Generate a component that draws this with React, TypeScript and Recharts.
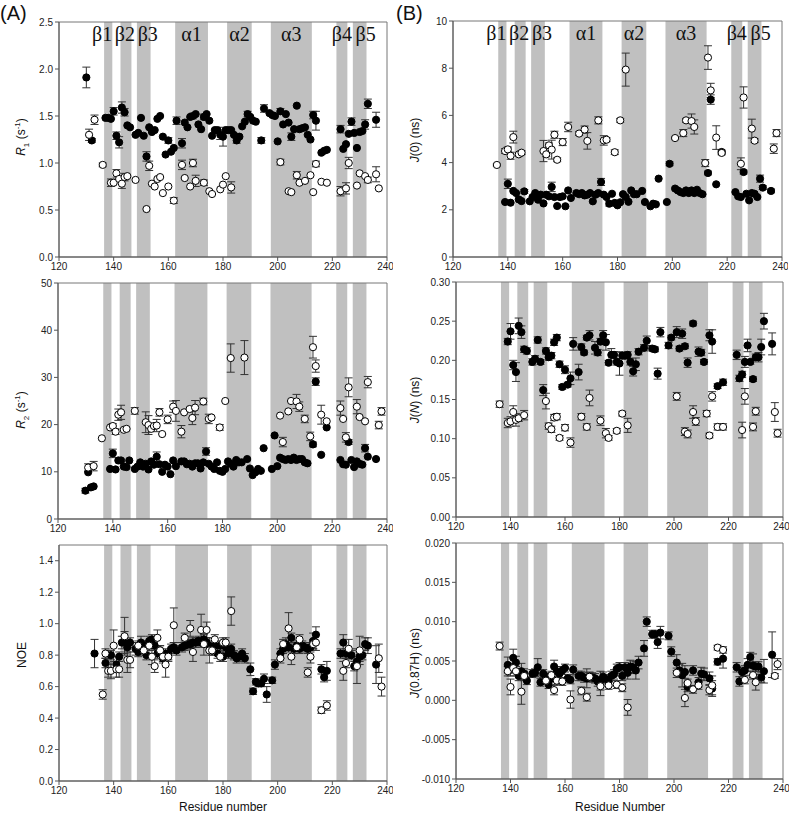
import { ScatterChart, Scatter, XAxis, YAxis, ReferenceArea, ErrorBar } from 'recharts';

type Pt = [number, number, number];

const xTicks = [120, 140, 160, 180, 200, 220, 240];

const sseNames = ['β1', 'β2', 'β3', 'α1', 'α2', 'α3', 'β4', 'β5'];
const sseStart = [136.5, 142.5, 148.5, 162.5, 181.5, 197.5, 221.5, 227.5];
const sseEnd = [139.5, 146.5, 153.5, 174.5, 190.5, 212.5, 225.5, 232.5];

// [residue, value, error]
const r1Filled: Pt[] = [
  [130, 1.91, 0.11], [132, 1.24, 0.02], [137, 1.48, 0], [138, 1.48, 0], [139, 1.47, 0], [140, 1.55, 0.04],
  [141, 1.29, 0.04], [142, 1.22, 0.06], [143, 1.59, 0.06], [144, 1.54, 0.04], [145, 1.4, 0], [146, 1.38, 0],
  [148, 1.3, 0], [149, 1.32, 0], [150, 1.48, 0], [151, 1.29, 0], [152, 1.07, 0.05], [153, 1.38, 0],
  [154, 1.33, 0], [155, 1.35, 0], [156, 1.47, 0], [157, 1.5, 0], [158, 1.28, 0], [159, 1.09, 0],
  [160, 1.24, 0.03], [161, 1.12, 0], [162, 1.16, 0], [163, 1.45, 0.04], [165, 1.21, 0.05], [166, 1.43, 0],
  [167, 1.38, 0], [168, 1.49, 0], [169, 1.5, 0.03], [170, 1.52, 0], [171, 1.41, 0], [172, 1.36, 0],
  [173, 1.49, 0.03], [174, 1.52, 0], [175, 1.45, 0], [176, 1.29, 0], [177, 1.35, 0], [178, 1.35, 0],
  [179, 1.3, 0.05], [180, 1.28, 0.1], [181, 1.35, 0], [182, 1.35, 0], [183, 1.35, 0], [184, 1.3, 0],
  [185, 1.24, 0.03], [186, 1.28, 0], [187, 1.39, 0], [188, 1.44, 0], [189, 1.52, 0.03], [190, 1.49, 0],
  [191, 1.45, 0], [192, 1.44, 0], [194, 1.24, 0.03], [195, 1.58, 0.04], [197, 1.53, 0], [198, 1.51, 0],
  [199, 1.5, 0], [200, 1.23, 0], [201, 1.55, 0.03], [202, 1.41, 0], [203, 1.52, 0], [204, 1.43, 0],
  [205, 1.28, 0.04], [206, 1.36, 0], [207, 1.61, 0], [208, 1.36, 0], [209, 1.37, 0], [210, 1.38, 0],
  [211, 1.3, 0], [212, 1.25, 0], [213, 1.51, 0.04], [214, 1.45, 0.1], [216, 1.11, 0], [217, 1.13, 0],
  [218, 1.14, 0], [223, 1.36, 0.04], [224, 1.15, 0], [225, 1.2, 0], [226, 1.31, 0], [227, 1.44, 0.04],
  [228, 1.32, 0], [229, 1.16, 0], [230, 1.33, 0], [231, 1.34, 0], [232, 1.41, 0.05], [233, 1.63, 0.05],
  [236, 1.46, 0.08],
];
const r1Open: Pt[] = [
  [131, 1.3, 0.06], [133, 1.46, 0.05], [136, 0.98, 0.02], [139, 0.79, 0.04], [140, 0.79, 0], [141, 0.89, 0.04],
  [142, 0.83, 0], [143, 0.78, 0.05], [144, 0.85, 0.04], [145, 0.86, 0], [148, 0.82, 0], [152, 0.51, 0],
  [153, 0.97, 0.05], [154, 0.78, 0], [155, 0.75, 0], [156, 0.83, 0], [157, 0.85, 0], [158, 0.68, 0],
  [160, 0.75, 0], [162, 0.6, 0.03], [165, 0.98, 0.05], [166, 0.84, 0], [168, 0.75, 0], [169, 1.0, 0.04],
  [170, 0.81, 0.06], [173, 0.79, 0.03], [175, 0.7, 0], [176, 0.67, 0], [179, 0.72, 0], [180, 0.77, 0],
  [181, 0.86, 0], [183, 0.74, 0.06], [201, 1.01, 0.03], [204, 0.7, 0], [205, 0.69, 0], [207, 0.87, 0.04],
  [208, 0.79, 0], [210, 0.81, 0], [212, 0.87, 0], [213, 0.69, 0], [214, 0.99, 0.03], [216, 0.8, 0],
  [218, 0.79, 0], [223, 0.7, 0.05], [225, 0.73, 0.06], [226, 1.0, 0.06], [229, 0.76, 0], [230, 0.89, 0],
  [232, 0.86, 0], [233, 0.82, 0.03], [236, 0.88, 0.08], [237, 0.73, 0],
];

const j0Filled: Pt[] = [
  [139, 2.33, 0], [140, 3.1, 0.2], [141, 2.3, 0], [142, 2.8, 0], [143, 2.71, 0], [144, 2.44, 0],
  [145, 2.37, 0], [146, 2.78, 0.08], [148, 2.36, 0], [149, 2.54, 0], [150, 2.71, 0], [151, 2.43, 0],
  [152, 2.64, 0], [153, 2.27, 0], [154, 2.64, 0], [155, 2.57, 0], [156, 2.97, 0.2], [157, 2.54, 0],
  [158, 2.16, 0], [159, 2.54, 0], [160, 2.57, 0], [161, 2.15, 0], [162, 2.82, 0], [163, 2.5, 0],
  [165, 2.71, 0], [166, 2.66, 0], [167, 2.71, 0], [168, 2.61, 0], [169, 2.64, 0], [170, 2.71, 0],
  [171, 2.36, 0], [172, 2.64, 0], [173, 2.71, 0], [174, 3.18, 0.15], [175, 2.64, 0], [176, 2.54, 0],
  [177, 2.26, 0.1], [178, 2.68, 0], [179, 2.29, 0], [180, 2.19, 0], [181, 2.32, 0], [182, 2.66, 0],
  [183, 2.54, 0], [184, 2.34, 0], [185, 2.82, 0], [186, 2.66, 0], [187, 2.66, 0], [189, 2.8, 0],
  [190, 2.33, 0], [192, 2.15, 0], [193, 2.26, 0], [194, 2.23, 0], [195, 3.32, 0], [198, 2.33, 0],
  [199, 3.95, 0.08], [201, 2.9, 0], [202, 2.82, 0], [203, 2.75, 0], [204, 2.71, 0], [205, 2.82, 0],
  [206, 2.71, 0], [207, 2.82, 0], [208, 2.71, 0], [209, 2.85, 0], [210, 2.71, 0], [211, 2.66, 0],
  [213, 3.56, 0.08], [214, 6.67, 0.2], [216, 3.08, 0], [218, 4.45, 0.08], [223, 2.75, 0], [224, 2.57, 0],
  [225, 2.54, 0], [226, 3.6, 0.08], [227, 2.68, 0], [228, 2.4, 0], [229, 2.71, 0], [230, 2.68, 0],
  [231, 2.54, 0], [232, 3.32, 0.15], [233, 2.94, 0.08], [236, 2.8, 0.08],
];
const j0Open: Pt[] = [
  [136, 3.9, 0.05], [139, 4.49, 0.1], [140, 4.56, 0.1], [141, 4.29, 0.15], [142, 5.08, 0.25], [144, 4.35, 0.08],
  [145, 4.42, 0.08], [153, 4.49, 0.45], [154, 4.35, 0.1], [155, 4.73, 0.1], [156, 4.55, 0.4], [157, 5.18, 0.15],
  [158, 4.12, 0.08], [160, 4.87, 0.15], [162, 5.51, 0.2], [166, 5.23, 0.08], [168, 5.4, 0.15], [169, 4.92, 0.35],
  [173, 5.79, 0.15], [175, 4.94, 0.2], [176, 4.97, 0.08], [179, 4.44, 0.1], [181, 5.79, 0.08], [183, 7.94, 0.7],
  [201, 5.04, 0.05], [204, 5.25, 0.15], [205, 5.79, 0.08], [207, 5.76, 0.3], [208, 5.51, 0.3], [212, 3.98, 0.15],
  [213, 8.45, 0.5], [214, 7.06, 0.3], [216, 5.06, 0.5], [218, 4.41, 0.08], [225, 3.95, 0.25], [226, 6.76, 0.45],
  [229, 5.44, 0.4], [230, 4.93, 0.08], [237, 4.59, 0.2], [238, 5.25, 0.15],
];

const r2Filled: Pt[] = [
  [130, 6.0, 0.5], [131, 9.9, 0], [132, 6.7, 0], [133, 6.9, 0], [139, 10.6, 0], [140, 13.9, 0.9],
  [141, 10.5, 0], [142, 12.4, 0], [143, 12.4, 0], [144, 11.1, 0], [145, 11.0, 0], [146, 12.4, 0],
  [148, 10.6, 0], [149, 11.1, 0], [150, 12.0, 0], [151, 11.1, 0], [152, 11.7, 0], [153, 10.5, 0],
  [154, 12.2, 0], [155, 11.5, 0], [156, 13.2, 1.0], [157, 11.6, 0], [158, 10.0, 0], [159, 11.5, 0],
  [160, 11.1, 0], [161, 9.5, 0], [162, 12.4, 0], [163, 11.2, 0], [165, 12.2, 0], [166, 12.2, 0],
  [167, 11.6, 0], [168, 11.7, 0], [169, 11.1, 0], [170, 11.8, 0], [171, 11.8, 0], [172, 10.7, 0],
  [173, 12.0, 0], [174, 14.3, 0.8], [175, 11.7, 0], [176, 11.1, 0], [177, 10.6, 0], [178, 12.0, 0],
  [179, 10.2, 0], [180, 10.0, 0], [181, 10.6, 0], [182, 12.2, 0], [183, 11.7, 0], [184, 11.1, 0],
  [185, 12.5, 0], [186, 12.0, 0], [187, 12.0, 0], [189, 12.7, 0], [190, 10.7, 0], [191, 9.3, 0],
  [192, 9.9, 0], [193, 10.6, 0], [194, 10.2, 0], [195, 15.0, 0], [198, 10.6, 0], [199, 17.7, 0],
  [200, 11.2, 0], [201, 13.0, 0], [202, 12.7, 0], [203, 12.5, 0], [204, 12.7, 0], [205, 12.5, 0],
  [206, 13.0, 0], [207, 12.5, 0], [208, 12.7, 0], [209, 12.7, 0], [210, 12.0, 0], [211, 11.8, 0],
  [213, 15.8, 0.5], [214, 29.1, 0.8], [216, 13.6, 0], [218, 19.4, 0], [223, 12.5, 0], [224, 11.6, 0],
  [225, 11.5, 0], [226, 16.3, 0.5], [227, 12.5, 0], [228, 11.0, 0], [229, 12.2, 0], [230, 11.7, 0],
  [231, 11.5, 0], [232, 15.0, 0.8], [233, 13.2, 0], [236, 12.7, 0],
];
const r2Open: Pt[] = [
  [131, 10.9, 0.8], [133, 11.2, 1.0], [136, 17.1, 0], [139, 19.4, 0], [140, 19.7, 0.5], [141, 18.5, 0.6],
  [142, 22.1, 1.2], [143, 22.6, 1.5], [144, 18.9, 0], [145, 19.1, 0], [148, 22.9, 0.7], [152, 20.5, 2.2],
  [153, 19.9, 2.0], [154, 19.1, 0], [155, 19.7, 0], [156, 19.8, 1.3], [157, 22.6, 0.8], [158, 18.0, 0],
  [160, 21.1, 0.9], [162, 23.8, 1.2], [163, 22.9, 2.2], [165, 18.5, 1.3], [166, 22.6, 0], [168, 23.3, 0],
  [169, 21.4, 1.4], [170, 23.6, 1.5], [173, 24.9, 0.7], [175, 21.2, 1.0], [176, 21.5, 0], [179, 19.4, 0.6],
  [181, 25.0, 0], [183, 34.1, 3.0], [188, 34.2, 3.6], [201, 21.9, 0], [202, 16.3, 1.0], [204, 22.8, 0],
  [205, 25.0, 0], [207, 24.9, 1.5], [208, 23.8, 1.0], [210, 21.2, 0.8], [212, 17.5, 0.9], [213, 36.4, 2.3],
  [214, 32.4, 1.3], [216, 22.1, 2.0], [218, 20.7, 0], [223, 23.5, 1.5], [224, 21.2, 0], [225, 17.3, 1.0],
  [226, 27.9, 2.0], [229, 23.8, 1.5], [230, 21.6, 0], [232, 20.7, 0], [233, 29.0, 1.2], [237, 19.9, 0.8],
  [238, 22.8, 0.8],
];

const jnFilled: Pt[] = [
  [139, 0.224, 0.004], [140, 0.237, 0.01], [141, 0.194, 0.006], [142, 0.185, 0.012], [143, 0.244, 0.01],
  [144, 0.236, 0.008], [145, 0.214, 0.004], [146, 0.212, 0.004], [148, 0.198, 0.004], [149, 0.202, 0.004],
  [150, 0.226, 0.004], [151, 0.198, 0.003], [152, 0.162, 0.007], [153, 0.212, 0.004], [154, 0.204, 0.004],
  [155, 0.206, 0.004], [156, 0.223, 0.004], [157, 0.229, 0.004], [158, 0.195, 0.004], [159, 0.166, 0.003],
  [160, 0.188, 0.005], [161, 0.169, 0.003], [162, 0.177, 0.008], [163, 0.221, 0.008], [165, 0.185, 0.01],
  [166, 0.217, 0.004], [167, 0.21, 0.003], [168, 0.229, 0.003], [169, 0.232, 0.006], [171, 0.216, 0.008],
  [172, 0.21, 0.004], [173, 0.224, 0.004], [174, 0.232, 0.006], [175, 0.223, 0.01], [176, 0.197, 0.003],
  [177, 0.207, 0.008], [178, 0.207, 0.004], [179, 0.198, 0.004], [180, 0.196, 0.015], [181, 0.206, 0.004],
  [182, 0.206, 0.004], [183, 0.207, 0.004], [184, 0.198, 0.004], [185, 0.186, 0.006], [186, 0.195, 0.008],
  [187, 0.211, 0.004], [189, 0.216, 0.004], [190, 0.225, 0.006], [192, 0.215, 0.003], [193, 0.214, 0.003],
  [194, 0.183, 0.007], [195, 0.236, 0.006], [198, 0.219, 0.004], [199, 0.229, 0.003], [201, 0.236, 0.007],
  [202, 0.215, 0.003], [203, 0.234, 0.006], [204, 0.218, 0.003], [205, 0.197, 0.006], [207, 0.247, 0.003],
  [209, 0.211, 0.006], [210, 0.21, 0.004], [211, 0.198, 0.003], [213, 0.232, 0.007], [214, 0.224, 0.015],
  [216, 0.167, 0.003], [218, 0.172, 0.004], [223, 0.207, 0.006], [224, 0.177, 0.004], [225, 0.182, 0.004],
  [226, 0.198, 0.007], [227, 0.219, 0.008], [228, 0.198, 0.003], [229, 0.176, 0.003], [230, 0.204, 0.004],
  [231, 0.204, 0.006], [232, 0.217, 0.01], [233, 0.25, 0.01], [236, 0.221, 0.014],
];
const jnOpen: Pt[] = [
  [136, 0.144, 0.004], [139, 0.12, 0.006], [140, 0.122, 0.006], [141, 0.134, 0.008], [142, 0.124, 0.008],
  [143, 0.126, 0.004], [145, 0.13, 0.006], [153, 0.148, 0.01], [154, 0.116, 0.004], [155, 0.112, 0.004],
  [156, 0.127, 0.004], [157, 0.128, 0.004], [158, 0.101, 0.003], [160, 0.114, 0.004], [162, 0.095, 0.006],
  [166, 0.128, 0.004], [168, 0.115, 0.004], [169, 0.152, 0.01], [173, 0.123, 0.006], [175, 0.107, 0.006],
  [176, 0.101, 0.003], [179, 0.11, 0.003], [181, 0.132, 0.003], [183, 0.117, 0.009], [201, 0.154, 0.005],
  [204, 0.109, 0.005], [205, 0.106, 0.005], [207, 0.134, 0.008], [208, 0.122, 0.005], [212, 0.132, 0.004],
  [213, 0.104, 0.003], [214, 0.154, 0.006], [216, 0.115, 0.004], [218, 0.115, 0.004], [225, 0.111, 0.01],
  [226, 0.154, 0.01], [229, 0.115, 0.005], [230, 0.135, 0.005], [237, 0.134, 0.012], [238, 0.107, 0.005],
];

const noeFilled: Pt[] = [
  [133, 0.81, 0.09], [137, 0.75, 0.03], [139, 0.8, 0.03], [141, 0.74, 0.05], [142, 0.79, 0.03], [143, 0.88, 0.04],
  [144, 0.88, 0.07], [145, 0.85, 0.03], [146, 0.88, 0.03], [148, 0.84, 0.04], [149, 0.82, 0.03], [150, 0.88, 0.04],
  [151, 0.86, 0.03], [152, 0.8, 0.03], [153, 0.89, 0.03], [154, 0.9, 0.03], [155, 0.86, 0.03], [156, 0.81, 0.03],
  [157, 0.83, 0.03], [158, 0.78, 0.03], [159, 0.81, 0.03], [160, 0.8, 0.03], [161, 0.84, 0.03], [162, 0.85, 0.03],
  [163, 0.83, 0.03], [165, 0.85, 0.03], [166, 0.86, 0.03], [167, 0.87, 0.03], [168, 0.87, 0.03], [169, 0.88, 0.03],
  [170, 0.88, 0.03], [171, 0.89, 0.03], [172, 0.88, 0.03], [173, 0.9, 0.03], [174, 0.88, 0.03], [175, 0.86, 0.03],
  [176, 0.83, 0.03], [177, 0.86, 0.03], [178, 0.81, 0.03], [179, 0.86, 0.03], [180, 0.79, 0.03], [181, 0.85, 0.03],
  [182, 0.81, 0.03], [183, 0.84, 0.03], [184, 0.8, 0.03], [185, 0.78, 0.03], [186, 0.79, 0.03], [187, 0.81, 0.03],
  [188, 0.78, 0.03], [190, 0.71, 0.04], [191, 0.57, 0.02], [192, 0.63, 0.02], [193, 0.62, 0.02], [194, 0.62, 0.02],
  [195, 0.65, 0.03], [196, 0.55, 0.05], [198, 0.64, 0.02], [199, 0.74, 0.03], [201, 0.81, 0.03], [202, 0.84, 0.03],
  [203, 0.87, 0.04], [204, 0.85, 0.03], [205, 0.91, 0.03], [206, 0.84, 0.03], [207, 0.86, 0.03], [208, 0.84, 0.03],
  [209, 0.86, 0.03], [210, 0.85, 0.03], [211, 0.84, 0.03], [212, 0.85, 0.03], [213, 0.89, 0.05], [214, 0.93, 0.05],
  [216, 0.71, 0.03], [217, 0.66, 0.03], [218, 0.7, 0.06], [223, 0.81, 0.03], [224, 0.88, 0.05], [225, 0.81, 0.03],
  [226, 0.81, 0.03], [227, 0.8, 0.03], [228, 0.73, 0.03], [229, 0.76, 0.03], [230, 0.79, 0.03], [231, 0.8, 0.03],
  [232, 0.87, 0.04], [233, 0.86, 0.05], [236, 0.74, 0.12],
];
const noeOpen: Pt[] = [
  [136, 0.55, 0.03], [137, 0.81, 0.03], [138, 0.7, 0.04], [139, 0.7, 0.05], [140, 0.86, 0.1], [141, 0.71, 0.05],
  [142, 0.71, 0.05], [144, 0.92, 0.12], [145, 0.77, 0.08], [146, 0.77, 0.05], [149, 0.86, 0.03], [151, 0.83, 0.03],
  [153, 0.86, 0.03], [154, 0.79, 0.05], [155, 0.73, 0.04], [156, 0.91, 0.05], [157, 0.83, 0.03], [158, 0.79, 0.03],
  [159, 0.74, 0.08], [160, 0.79, 0.03], [162, 0.99, 0.11], [166, 0.91, 0.03], [168, 0.97, 0.05], [169, 0.82, 0.06],
  [172, 0.96, 0.1], [173, 0.87, 0.07], [174, 0.96, 0.05], [175, 0.83, 0.08], [176, 0.83, 0.03], [177, 0.9, 0.03],
  [179, 0.79, 0.03], [180, 0.88, 0.03], [181, 0.88, 0.03], [183, 1.08, 0.09], [201, 0.78, 0.03], [202, 0.87, 0.03],
  [204, 0.97, 0.1], [205, 0.79, 0.05], [207, 0.85, 0.03], [208, 0.9, 0.03], [211, 0.69, 0.03], [212, 0.79, 0.04],
  [213, 0.87, 0.03], [214, 0.88, 0.05], [216, 0.45, 0.02], [218, 0.48, 0.03], [224, 0.7, 0.06], [225, 0.75, 0.03],
  [226, 0.84, 0.06], [229, 0.73, 0.11], [230, 0.83, 0.09], [237, 0.78, 0.09], [238, 0.6, 0.06],
];

const jhFilled: Pt[] = [
  [139, 0.0045, 0.001], [140, 0.0039, 0.0008], [141, 0.0054, 0.0011], [142, 0.0048, 0.0008], [143, 0.0031, 0.0006],
  [144, 0.0037, 0.001], [145, 0.0034, 0.0006], [146, 0.0025, 0.0005], [148, 0.0034, 0.0005], [149, 0.0035, 0.0005],
  [150, 0.0042, 0.0011], [151, 0.0023, 0.0005], [152, 0.0034, 0.0005], [153, 0.003, 0.0005], [154, 0.002, 0.0005],
  [155, 0.0028, 0.0005], [156, 0.0043, 0.0008], [157, 0.0037, 0.0006], [158, 0.0034, 0.0005], [159, 0.0038, 0.0005],
  [160, 0.0041, 0.0005], [161, 0.0028, 0.0005], [162, 0.0026, 0.0005], [163, 0.0039, 0.0006], [165, 0.0031, 0.0006],
  [166, 0.0031, 0.0006], [167, 0.0029, 0.0006], [168, 0.0028, 0.0012], [169, 0.003, 0.0006], [170, 0.0029, 0.0006],
  [171, 0.0028, 0.0006], [172, 0.0024, 0.0006], [173, 0.0025, 0.0012], [174, 0.003, 0.0006], [175, 0.0027, 0.0006],
  [176, 0.0024, 0.0006], [177, 0.0031, 0.0006], [178, 0.0033, 0.0006], [179, 0.004, 0.0006], [180, 0.0042, 0.0006],
  [181, 0.0031, 0.0006], [182, 0.0042, 0.0006], [183, 0.0035, 0.0008], [184, 0.0043, 0.0008], [185, 0.0042, 0.0008],
  [186, 0.0038, 0.0011], [187, 0.0048, 0.0008], [189, 0.0066, 0.001], [190, 0.01, 0.0006], [192, 0.0084, 0.0005],
  [193, 0.0084, 0.0005], [194, 0.0074, 0.0008], [195, 0.0086, 0.0008], [198, 0.0082, 0.0005], [199, 0.0062, 0.0006],
  [201, 0.0048, 0.001], [202, 0.0038, 0.0008], [203, 0.0032, 0.0015], [204, 0.0036, 0.0008], [205, 0.0017, 0.0006],
  [207, 0.0038, 0.0006], [209, 0.0023, 0.0006], [210, 0.0034, 0.0008], [211, 0.0033, 0.0008], [213, 0.0028, 0.0008],
  [214, 0.0015, 0.001], [216, 0.0049, 0.0004], [218, 0.0053, 0.0012], [223, 0.0042, 0.0006], [224, 0.0024, 0.0006],
  [225, 0.0036, 0.0006], [226, 0.0038, 0.0006], [227, 0.0045, 0.0008], [228, 0.0055, 0.0006], [229, 0.0044, 0.0015],
  [230, 0.0043, 0.0006], [231, 0.0043, 0.0006], [232, 0.0029, 0.0006], [233, 0.0037, 0.0015], [236, 0.0058, 0.0029],
];
const jhOpen: Pt[] = [
  [136, 0.0069, 0.0005], [139, 0.0037, 0.0006], [140, 0.0017, 0.001], [141, 0.0041, 0.0006], [142, 0.0037, 0.0006],
  [144, 0.0011, 0.0016], [145, 0.0031, 0.0006], [153, 0.0025, 0.0005], [155, 0.0032, 0.0005], [156, 0.0013, 0.0006],
  [157, 0.0025, 0.0005], [159, 0.0024, 0.0005], [162, 0.0001, 0.0011], [166, 0.0012, 0.0005], [168, 0.0004, 0.0005],
  [169, 0.003, 0.0005], [173, 0.0018, 0.0012], [176, 0.0019, 0.0005], [179, 0.002, 0.0005], [181, 0.0016, 0.0005],
  [183, -0.0009, 0.001], [201, 0.0035, 0.0006], [204, 0.0003, 0.0011], [205, 0.0022, 0.0005], [207, 0.0014, 0.0005],
  [209, 0.0019, 0.0005], [213, 0.0013, 0.0006], [214, 0.0019, 0.0012], [216, 0.0067, 0.0003], [218, 0.0064, 0.0004],
  [226, 0.0026, 0.0005], [229, 0.0032, 0.0005], [230, 0.0023, 0.001], [237, 0.0031, 0.0003], [238, 0.0046, 0.0007],
];

const tickFont = { fontSize: 10, fill: '#222', fontFamily: '"Liberation Sans", Arial, sans-serif' };
const labelFont = '"Liberation Sans", Arial, sans-serif';
// small horizontal nudges so the SSE names don't run into each other
const sseLabelDx = [-6, -1, 4, 0, 0, 0, 0, 6];

const toRows = (pts: Pt[]) => pts.map(([x, y, e]) => ({ x, y, e }));

const dotShape = (fill: string) => (p: any) => (
  <circle cx={p.cx} cy={p.cy} r={3.6} fill={fill} stroke="#000" strokeWidth={1} />
);

interface PanelProps {
  box: [number, number, number, number];
  domain: [number, number];
  ticks: number[];
  digits: number;
  filled: Pt[];
  open: Pt[];
  showSse?: boolean;
}

function Panel({ box, domain, ticks, digits, filled, open, showSse }: PanelProps) {
  const [l, t, r, b] = box;
  const w = r - l + 50 + 6;
  const h = b - t + 6 + 22;
  return (
    <div style={{ position: 'absolute', left: l - 50, top: t - 6 }}>
      <ScatterChart width={w} height={h} margin={{ top: 6, right: 6, bottom: 0, left: 0 }}>
        <XAxis
          type="number"
          dataKey="x"
          domain={[120, 240]}
          ticks={xTicks}
          height={22}
          tick={tickFont}
          tickSize={4}
          stroke="#555"
          allowDataOverflow
        />
        <YAxis
          type="number"
          dataKey="y"
          domain={domain}
          ticks={ticks}
          width={50}
          tick={tickFont}
          tickSize={4}
          stroke="#555"
          tickFormatter={(v: number) => v.toFixed(digits)}
          allowDataOverflow
        />
        {sseStart.map((s, i) => (
          <ReferenceArea
            key={sseNames[i]}
            x1={s}
            x2={sseEnd[i]}
            y1={domain[0]}
            y2={domain[1]}
            fill="#c0c0c0"
            fillOpacity={1}
            stroke="none"
            label={
              showSse
                ? {
                    value: sseNames[i],
                    position: 'insideTop',
                    offset: 5,
                    dx: sseLabelDx[i],
                    fontSize: 20,
                    fontFamily: '"Liberation Serif", "DejaVu Serif", serif',
                    fill: '#111',
                  }
                : undefined
            }
          />
        ))}
        <ReferenceArea x1={120} x2={240} y1={domain[0]} y2={domain[1]} fill="none" stroke="#777" />
        <Scatter data={toRows(filled)} shape={dotShape('#000')} isAnimationActive={false}>
          <ErrorBar dataKey="e" direction="y" width={4} stroke="#333" strokeWidth={1} />
        </Scatter>
        <Scatter data={toRows(open)} shape={dotShape('#fff')} isAnimationActive={false}>
          <ErrorBar dataKey="e" direction="y" width={4} stroke="#333" strokeWidth={1} />
        </Scatter>
      </ScatterChart>
    </div>
  );
}

const yLab = (x: number, y: number, content: React.ReactNode) => (
  <div
    style={{
      position: 'absolute',
      left: x,
      top: y,
      transform: 'translate(-50%, -50%) rotate(-90deg)',
      fontFamily: labelFont,
      fontSize: 12,
      color: '#111',
      whiteSpace: 'nowrap',
    }}
  >
    {content}
  </div>
);

export default function App() {
  return (
    <div style={{ position: 'absolute', left: 0, top: 0, width: 791, height: 818, background: '#fff' }}>
      <Panel box={[59, 22, 387, 257]} domain={[0, 2.5]} ticks={[0, 0.5, 1, 1.5, 2, 2.5]} digits={1} filled={r1Filled} open={r1Open} showSse />
      <Panel box={[453, 21, 782, 257]} domain={[0, 10]} ticks={[0, 2, 4, 6, 8, 10]} digits={0} filled={j0Filled} open={j0Open} showSse />
      <Panel box={[58, 283, 387, 519]} domain={[0, 50]} ticks={[0, 10, 20, 30, 40, 50]} digits={0} filled={r2Filled} open={r2Open} />
      <Panel box={[456, 282, 783, 517]} domain={[0, 0.3]} ticks={[0, 0.05, 0.1, 0.15, 0.2, 0.25, 0.3]} digits={2} filled={jnFilled} open={jnOpen} />
      <Panel box={[59, 545, 387, 781]} domain={[0, 1.5]} ticks={[0, 0.2, 0.4, 0.6, 0.8, 1.0, 1.2, 1.4]} digits={1} filled={noeFilled} open={noeOpen} />
      <Panel box={[456, 543, 783, 779]} domain={[-0.01, 0.02]} ticks={[-0.01, -0.005, 0, 0.005, 0.01, 0.015, 0.02]} digits={3} filled={jhFilled} open={jhOpen} />

      <div style={{ position: 'absolute', left: 0, top: 2, fontFamily: labelFont, fontSize: 20, color: '#111' }}>(A)</div>
      <div style={{ position: 'absolute', left: 396, top: 2, fontFamily: labelFont, fontSize: 20, color: '#111' }}>(B)</div>

      {yLab(22, 137, <><i>R</i><sub style={{ fontSize: 8 }}>1</sub> (s<sup style={{ fontSize: 8 }}>-1</sup>)</>)}
      {yLab(415, 140, <><i>J</i>(0) (ns)</>)}
      {yLab(22, 410, <><i>R</i><sub style={{ fontSize: 8 }}>2</sub> (s<sup style={{ fontSize: 8 }}>-1</sup>)</>)}
      {yLab(415, 400, <><i>J</i>(<i>N</i>) (ns)</>)}
      {yLab(22, 655, <>NOE</>)}
      {yLab(415, 663, <><i>J</i>(0.87H) (ns)</>)}

      <div style={{ position: 'absolute', left: 223, top: 807, transform: 'translate(-50%, -50%)', fontFamily: labelFont, fontSize: 12, color: '#111' }}>
        Residue number
      </div>
      <div style={{ position: 'absolute', left: 620, top: 807, transform: 'translate(-50%, -50%)', fontFamily: labelFont, fontSize: 12, color: '#111' }}>
        Residue Number
      </div>
    </div>
  );
}
